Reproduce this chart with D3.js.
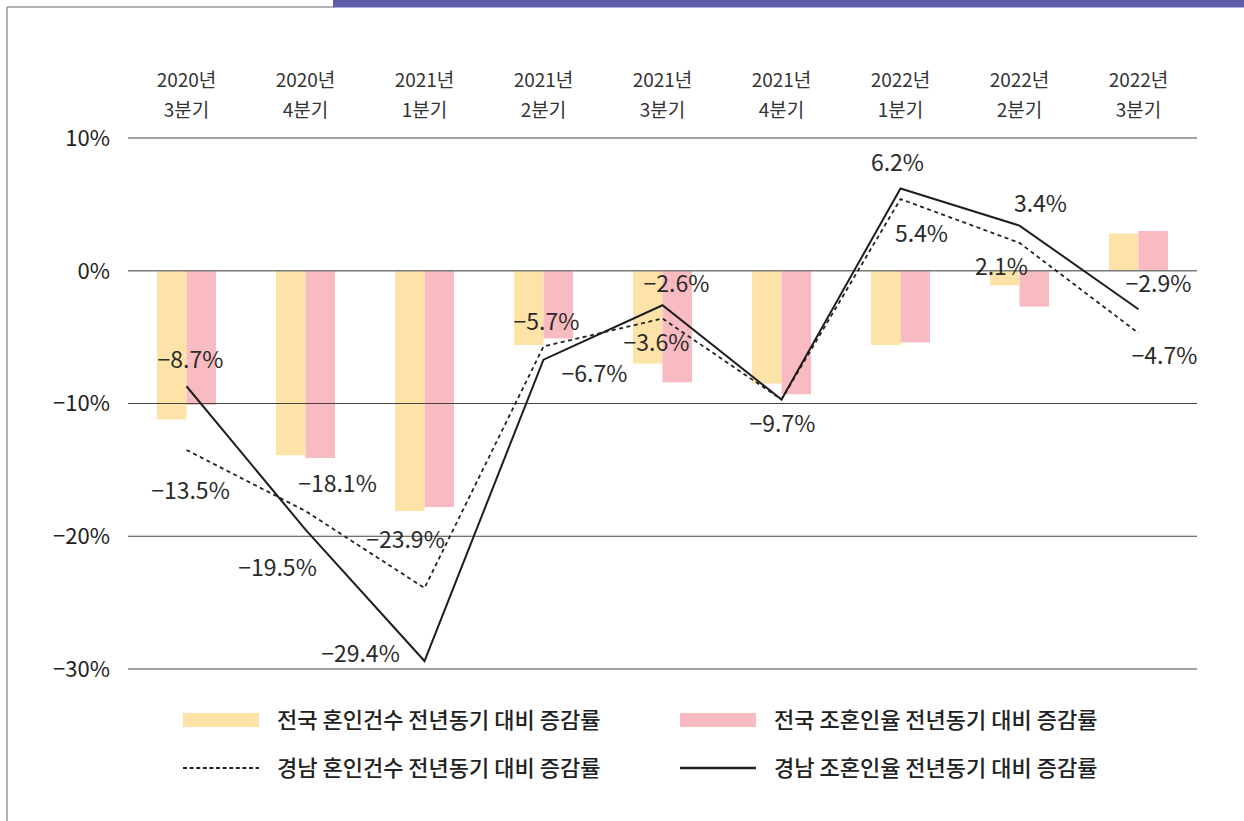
<!DOCTYPE html>
<html><head><meta charset="utf-8">
<script src="https://cdn.jsdelivr.net/npm/d3@7"></script>
<style>
html,body{margin:0;padding:0;background:#fff;}
svg{display:block;font-family:"Noto Sans CJK KR","Noto Sans",sans-serif;}
</style></head>
<body>
<svg id="chart" width="1244" height="821"></svg>
<script>
// ---- data ----
const categories = ["2020년\n3분기","2020년\n4분기","2021년\n1분기","2021년\n2분기","2021년\n3분기","2021년\n4분기","2022년\n1분기","2022년\n2분기","2022년\n3분기"];
const nationalMarriages = [-11.2, -13.9, -18.1, -5.6, -7.0, -8.5, -5.6, -1.1, 2.8];   // 전국 혼인건수
const nationalRate      = [-10.1, -14.1, -17.8, -5.1, -8.4, -9.3, -5.4, -2.7, 3.0];   // 전국 조혼인율
const gnMarriages       = [-13.5, -18.1, -23.9, -5.7, -3.6, -9.7, 5.4, 2.1, -4.7];    // 경남 혼인건수
const gnRate            = [-8.7, -19.5, -29.4, -6.7, -2.6, -9.7, 6.2, 3.4, -2.9];     // 경남 조혼인율
const yTicks = [10, 0, -10, -20, -30];
const legendLabels = ["전국 혼인건수 전년동기 대비 증감률","전국 조혼인율 전년동기 대비 증감률","경남 혼인건수 전년동기 대비 증감률","경남 조혼인율 전년동기 대비 증감률"];

// ---- layout (label offsets in px from the point) ----
const gnRateLabelOff = [[4,-27],[-28,38],[-64,-7],[51,14],[14,-22],[1,24],[-3,-26],[21,-22],[20,-26]];
const gnMarrLabelOff = [[4,41],[32,-27],[-19,-48],[3,-25],[-6,24],null,[21,35],[-18,24],[26,23]];

const svg = d3.select("#chart");
const x = d3.scaleBand().domain(categories).range([127, 1198]).paddingInner(0);
const y = d3.scaleLinear().domain([-30, 10]).range([669, 138]);
const half = 29.5;
const fmt = v => (v < 0 ? "\u2212" + Math.abs(v).toFixed(1) : v.toFixed(1)) + "%";
const cx = c => x(c) + x.bandwidth()/2;

// frame decorations
svg.append("line").attr("x1",7).attr("x2",7).attr("y1",7).attr("y2",821).attr("stroke","#9a9a9a").attr("stroke-width",1.5);
svg.append("line").attr("x1",7).attr("x2",334).attr("y1",7).attr("y2",7).attr("stroke","#9a9a9a").attr("stroke-width",1.5);
svg.append("rect").attr("x",333).attr("y",0).attr("width",911).attr("height",7.5).attr("fill","#615ca8");

// bars
const g = svg.append("g");
g.selectAll("rect.nm").data(nationalMarriages).join("rect").attr("class","nm")
  .attr("x",(d,i)=>cx(categories[i])-half).attr("width",half)
  .attr("y",d=>y(Math.max(0,d))).attr("height",d=>Math.abs(y(d)-y(0)))
  .attr("fill","#fde3a8");
g.selectAll("rect.nr").data(nationalRate).join("rect").attr("class","nr")
  .attr("x",(d,i)=>cx(categories[i])).attr("width",half)
  .attr("y",d=>y(Math.max(0,d))).attr("height",d=>Math.abs(y(d)-y(0)))
  .attr("fill","#f8bbc1");

// gridlines
svg.append("g").selectAll("line").data(yTicks).join("line")
  .attr("x1",128).attr("x2",1197).attr("y1",d=>y(d)).attr("y2",d=>y(d))
  .attr("stroke",d=>d===0?"#7a7a7a":"#444").attr("stroke-width",d=>d===0?1.6:1);

// y labels
svg.append("g").selectAll("text").data(yTicks).join("text")
  .attr("x",110).attr("y",d=>y(d)).attr("dy","0.36em").attr("text-anchor","end")
  .attr("font-size",22).attr("fill","#222")
  .text(d=>(d<0?"\u2212"+Math.abs(d):d)+"%");

// category labels
const cl = svg.append("g").selectAll("text").data(categories).join("text")
  .attr("text-anchor","middle").attr("font-size",19).attr("fill","#333");
cl.each(function(d){
  const parts = d.split("\n");
  const t = d3.select(this);
  t.append("tspan").attr("x",cx(d)).attr("y",87).text(parts[0]);
  t.append("tspan").attr("x",cx(d)).attr("y",117).text(parts[1]);
});

// lines
const line = d3.line().x((d,i)=>cx(categories[i])).y(d=>y(d));
svg.append("path").datum(gnMarriages).attr("d",line).attr("fill","none")
  .attr("stroke","#222").attr("stroke-width",1.8).attr("stroke-dasharray","4,3.5");
svg.append("path").datum(gnRate).attr("d",line).attr("fill","none")
  .attr("stroke","#1e1e1e").attr("stroke-width",2);

// value labels
const lab = svg.append("g").attr("font-size",23).attr("fill","#2a2a2a").attr("text-anchor","middle");
gnRate.forEach((v,i)=>{
  const o = gnRateLabelOff[i];
  lab.append("text").attr("x",cx(categories[i])+o[0]).attr("y",y(v)+o[1]).attr("dy","0.36em").text(fmt(v));
});
gnMarriages.forEach((v,i)=>{
  const o = gnMarrLabelOff[i];
  if(!o) return;
  lab.append("text").attr("x",cx(categories[i])+o[0]).attr("y",y(v)+o[1]).attr("dy","0.36em").text(fmt(v));
});

// legend
const lg = svg.append("g").attr("font-size",22).attr("font-weight",500).attr("fill","#222");
const legPos = [[183,720],[680,720],[183,768],[680,768]];
legendLabels.forEach((t,i)=>{
  const [lx,ly] = legPos[i];
  if(i===0) lg.append("rect").attr("x",lx).attr("y",ly-7).attr("width",76).attr("height",14).attr("fill","#fde3a8");
  if(i===1) lg.append("rect").attr("x",lx).attr("y",ly-7).attr("width",76).attr("height",14).attr("fill","#f8bbc1");
  if(i===2) lg.append("line").attr("x1",lx).attr("x2",lx+76).attr("y1",ly).attr("y2",ly).attr("stroke","#222").attr("stroke-width",2.2).attr("stroke-dasharray","4,2.6");
  if(i===3) lg.append("line").attr("x1",lx).attr("x2",lx+76).attr("y1",ly).attr("y2",ly).attr("stroke","#222").attr("stroke-width",2.4);
  lg.append("text").attr("x",lx+94).attr("y",ly).attr("dy","0.36em").text(t);
});
</script>
</body></html>
